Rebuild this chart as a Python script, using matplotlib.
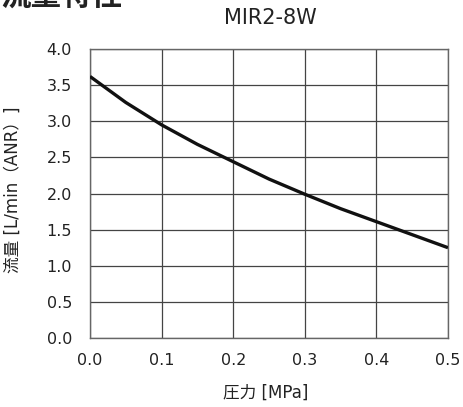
import matplotlib
matplotlib.use("Agg")
import matplotlib.pyplot as plt
import numpy as np

plt.rcParams['font.family'] = ['DejaVu Sans', 'Noto Sans CJK JP']

pressure = [0.0, 0.05, 0.1, 0.15, 0.2, 0.25, 0.3, 0.35, 0.4, 0.45, 0.5]
flow = [3.62, 3.26, 2.95, 2.68, 2.44, 2.20, 1.99, 1.79, 1.61, 1.43, 1.25]
xticks = [0.0, 0.1, 0.2, 0.3, 0.4, 0.5]
yticks = [0.0, 0.5, 1.0, 1.5, 2.0, 2.5, 3.0, 3.5, 4.0]
title = "MIR2-8W"
header = "流量特性"
xlabel = "圧力 [MPa]"
ylabel = "流量 [L/min（ANR）]"

W, H = 463, 407
fig = plt.figure(figsize=(W/100, H/100), dpi=100)
L, R, T, B = 90, 448, 49, 338
ax = fig.add_axes([L/W, 1-B/H, (R-L)/W, (B-T)/H])

ax.plot(pressure, flow, color='#111111', lw=2.4, solid_capstyle='butt', zorder=3)
ax.set_xlim(0, 0.5)
ax.set_ylim(0, 4.0)
ax.set_xticks(xticks)
ax.set_yticks(yticks)
ax.set_xticklabels([f"{v:.1f}" for v in xticks], fontsize=11.5)
ax.set_yticklabels([f"{v:.1f}" for v in yticks], fontsize=11.5)
ax.tick_params(axis='x', length=0, pad=11, colors='#222222')
ax.tick_params(axis='y', length=0, pad=13, colors='#222222')
ax.grid(True, color='#444444', lw=0.9)
for s in ax.spines.values():
    s.set_color('#666666')
    s.set_linewidth(1.0)

ax.set_xlabel(xlabel, fontsize=12, color='#222222', va='center')
ax.xaxis.set_label_coords((266-L)/(R-L), (B-393)/(B-T))
ax.set_ylabel(ylabel, fontsize=12, color='#222222', va='center')
ax.yaxis.set_label_coords((13-L)/(R-L), (B-190)/(B-T))

fig.text(270/W, 1-18/H, title, fontsize=15, ha='center', va='center', color='#222222')
fig.text(0.0, 1-6/H, header, fontsize=22, fontweight='bold', ha='left', va='baseline', color='#222222')

fig.savefig("out.png", dpi=100)
